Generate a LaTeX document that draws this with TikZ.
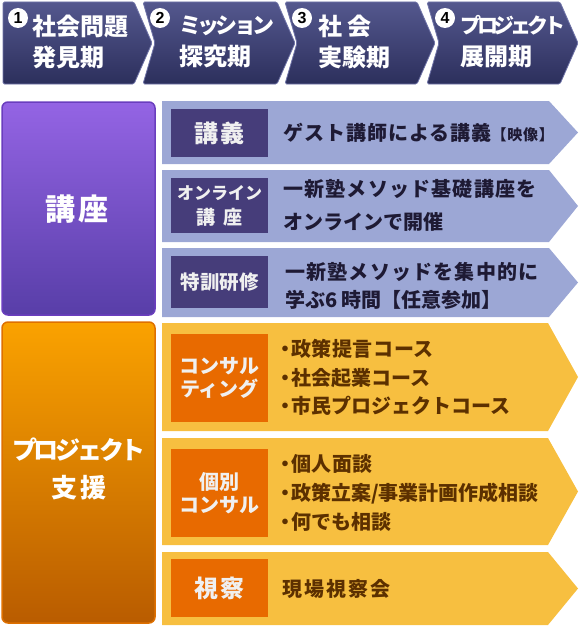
\documentclass[tikz,border=0pt]{standalone}
\usepackage{fontspec}
\setmainfont{Noto Sans CJK JP}
\newfontfamily\numfont{Liberation Sans}
\definecolor{navyT}{RGB}{84,88,142}
\definecolor{navyB}{RGB}{44,47,92}
\definecolor{navyE}{RGB}{112,116,168}
\definecolor{purT}{RGB}{148,100,228}
\definecolor{purB}{RGB}{88,62,168}
\definecolor{purE}{RGB}{106,62,190}
\definecolor{oraT}{RGB}{250,162,0}
\definecolor{oraB}{RGB}{185,92,0}
\definecolor{oraE}{RGB}{222,112,0}
\definecolor{blueA}{RGB}{156,167,213}
\definecolor{blueL}{RGB}{70,61,122}
\definecolor{blueTx}{RGB}{30,26,52}
\definecolor{yelA}{RGB}{247,191,64}
\definecolor{oraL}{RGB}{232,106,0}
\definecolor{brownTx}{RGB}{92,48,0}
\definecolor{lblTx}{RGB}{240,240,240}
\newcommand\lsp[1]{\addfontfeatures{LetterSpace=#1}}
\newcommand\bul{\makebox[11pt][c]{・}}
\begin{document}
\begin{tikzpicture}[x=1pt,y=-1pt,
  chev/.style={top color=navyT, bottom color=navyB, draw=navyE, line width=0.8pt, rounded corners=1.5pt},
  numc/.style={circle, fill=white, inner sep=0pt, minimum size=20pt, text=black,
    font=\numfont\bfseries\fontsize{16}{16}\selectfont},
  chtx/.style={anchor=west, inner sep=0pt, align=left, text=white,
    font=\bfseries\fontsize{24}{31.5}\selectfont},
  bigbox/.style={rounded corners=6pt, line width=1.5pt},
  bigtx/.style={inner sep=0pt, align=center, text=white},
  barrow/.style={fill=blueA},
  yarrow/.style={fill=yelA},
  blab/.style={fill=blueL, inner sep=0pt, minimum width=97pt, text=lblTx, align=center},
  olab/.style={fill=oraL, inner sep=0pt, minimum width=97pt, text=lblTx, align=center},
  btx/.style={anchor=west, inner sep=0pt, align=left, text=blueTx},
  ytx/.style={anchor=west, inner sep=0pt, align=left, text=brownTx}
]
\useasboundingbox (0,0) rectangle (580,626);

% ---- top phase chevrons
\path[chev] (3,2) -- (134,2) -- (152,43) -- (134,84) -- (3,84) -- cycle;
\path[chev] (143,2) -- (277,2) -- (295,43) -- (277,84) -- (143,84) -- (155,43) -- cycle;
\path[chev] (285,2) -- (417,2) -- (435,43) -- (417,84) -- (285,84) -- (297,43) -- cycle;
\path[chev] (427,2) -- (560,2) -- (578,43) -- (560,84) -- (427,84) -- (439,43) -- cycle;

\node[numc] (n1) at (18,18) {1};
\node[numc] (n2) at (160,18) {2};
\node[numc] (n3) at (302,18) {3};
\node[numc] (n4) at (445,18) {4};

\node[chtx] (p1) at (32,41.75) {社会問題\\発見期};
\node[chtx] (p2) at (179,41.75) {{\fontsize{22}{22}\selectfont\lsp{-17}ミッション}\\探究期};
\node[chtx] (p3) at (318,41.75) {社\hspace{5pt}会\\実験期};
\node[chtx] (p4) at (460,41.75) {{\fontsize{21}{21}\selectfont\lsp{-20}プロジェクト}\\展開期};

% ---- left category boxes
\path[bigbox, top color=purT, bottom color=purB, draw=purE] (2,102) rectangle (155,315);
\node[bigtx, font=\bfseries\fontsize{30}{30}\selectfont] (koza) at (77,209) {\lsp{8}講座};
\path[bigbox, top color=oraT, bottom color=oraB, draw=oraE] (2,322) rectangle (155,623);
\node[bigtx, font=\bfseries\fontsize{25}{38}\selectfont] (shien) at (79,469) {{\lsp{-13}プロジェクト}\\{\fontsize{26}{26}\selectfont\lsp{12}支援}};

% ---- blue arrows
\path[barrow] (162,101) -- (549,101) -- (578,132.5) -- (549,164) -- (162,164) -- cycle;
\path[barrow] (162,170) -- (549,170) -- (578,206) -- (549,242) -- (162,242) -- cycle;
\path[barrow] (162,248) -- (549,248) -- (578,282.5) -- (549,317) -- (162,317) -- cycle;

\node[blab, minimum height=48pt, font=\bfseries\fontsize{24}{24}\selectfont] (l1) at (219.5,133) {\lsp{5}講義};
\node[blab, minimum height=55pt, font=\bfseries\fontsize{17}{25}\selectfont] (l2) at (219.5,205.5) {オンライン\\{\fontsize{19}{19}\selectfont 講\hspace{9pt}座}};
\node[blab, minimum height=52pt, font=\bfseries\fontsize{19.5}{19.5}\selectfont] (l3) at (219.5,282) {特訓研修};

\node[btx, font=\bfseries\fontsize{20}{20}\selectfont] (t1) at (283,133) {\lsp{5}ゲスト講師による講義{\fontsize{15}{15}\selectfont【映像】}};
\node[btx, font=\bfseries\fontsize{20}{33}\selectfont] (t2) at (283,205.5) {\lsp{6}一新塾メソッド基礎講座を\\オンラインで開催};
\node[btx, font=\bfseries\fontsize{20}{28}\selectfont] (t3) at (285,286) {\lsp{6}一新塾メソッドを集中的に\\学ぶ6 時間【任意参加】};

% ---- yellow arrows
\path[yarrow] (162,323) -- (548,323) -- (578,377) -- (548,431) -- (162,431) -- cycle;
\path[yarrow] (162,438) -- (548,438) -- (578,491.5) -- (548,545) -- (162,545) -- cycle;
\path[yarrow] (162,552) -- (548,552) -- (578,588.5) -- (548,625) -- (162,625) -- cycle;

\node[olab, minimum height=88pt, font=\bfseries\fontsize{20}{23.5}\selectfont] (o1) at (219.5,378) {コンサル\\ティング};
\node[olab, minimum height=88pt, font=\bfseries\fontsize{20}{23}\selectfont] (o2) at (219.5,493) {個別\\コンサル};
\node[olab, minimum height=58pt, font=\bfseries\fontsize{24}{24}\selectfont] (o3) at (219.5,588) {\lsp{5}視察};

\node[ytx, font=\bfseries\fontsize{20}{28.5}\selectfont] (u1) at (280,377.5) {\lsp{3}\bul 政策提言コース\\\bul 社会起業コース\\\bul 市民プロジェクトコース};
\node[ytx, font=\bfseries\fontsize{20}{29}\selectfont] (u2) at (280,493) {\lsp{3}\bul 個人面談\\\bul 政策立案/事業計画作成相談\\\bul 何でも相談};
\node[ytx, font=\bfseries\fontsize{20}{20}\selectfont] (u3) at (282,589) {\lsp{10}現場視察会};
\end{tikzpicture}
\end{document}
